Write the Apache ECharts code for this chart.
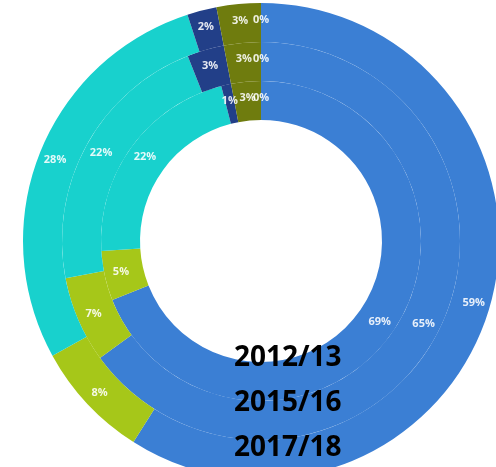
<!DOCTYPE html>
<html>
<head>
<meta charset="utf-8">
<script src="https://cdn.jsdelivr.net/npm/echarts@6/dist/echarts.min.js"></script>
<style>
  html, body { margin: 0; padding: 0; background: #fff; }
  #chart { width: 496px; height: 467px; }
</style>
</head>
<body>
<div id="chart"></div>
<script>
const years = ['2012/13', '2015/16', '2017/18']
const categories = ['Category A', 'Category B', 'Category C', 'Category D', 'Category E', 'Category F']
const colors = ['#3b7fd4', '#a6c719', '#18d1cd', '#223f88', '#6f7c0e', '#8a8a8a']

const values2012 = [69, 5, 22, 1, 3, 0]
const values2015 = [65, 7, 22, 3, 3, 0]
const values2017 = [59, 8, 28, 2, 3, 0]

const center = [261, 241]
const rings = [[121, 160], [160, 199], [199, 238]]
const ringValues = [values2012, values2015, values2017]

const chart = echarts.init(document.getElementById('chart'), null, { renderer: 'canvas' })

const dataSeries = ringValues.map((vals, i) => ({
  name: years[i],
  type: 'pie',
  center: center,
  radius: rings[i],
  startAngle: 90,
  clockwise: true,
  avoidLabelOverlap: false,
  minShowLabelAngle: 0,
  labelLayout: { hideOverlap: false },
  silent: true,
  itemStyle: { borderWidth: 0 },
  label: {
    show: true,
    position: 'inside',
    formatter: '{c}%',
    color: 'rgba(255,255,255,0.88)',
    fontSize: 11,
    fontWeight: 'bold',
    fontFamily: 'Open Sans'
  },
  labelLine: { show: false },
  data: vals.map((v, j) => ({ name: categories[j], value: v, itemStyle: { color: colors[j] } }))
}))

// faint dashed separators between the rings
const sepSeries = [rings[0][1], rings[1][1]].map(r => ({
  type: 'pie',
  center: center,
  radius: [0, r],
  silent: true,
  z: 1,
  label: { show: false },
  itemStyle: { color: 'transparent', borderColor: 'rgba(255,255,255,0.45)', borderWidth: 1, borderType: 'dashed' },
  data: [{ value: 1, name: 'sep' }]
}))

chart.setOption({
  animation: false,
  backgroundColor: '#fff',
  graphic: years.map((y, i) => ({
    type: 'text',
    left: 234,
    top: 344 + i * 45,
    z: 100,
    style: { text: y, fill: '#000', fontSize: 28, fontWeight: 'bold', fontFamily: 'Open Sans' }
  })),
  series: [...dataSeries, ...sepSeries]
})
</script>
</body>
</html>
